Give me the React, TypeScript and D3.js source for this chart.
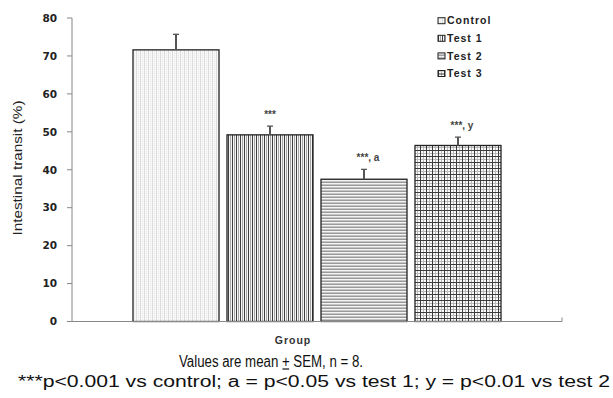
import React, { useEffect, useRef, useState } from "react";
import * as d3 from "d3";

const groups = ["Control", "Test 1", "Test 2", "Test 3"];
const means = [71.6, 49.2, 37.5, 46.4];
const sems = [4.1, 2.3, 2.6, 2.2];
const sigLabels = ["", "***", "***, a", "***, y"];
const yTicks = [0, 10, 20, 30, 40, 50, 60, 70, 80];
const patternIds = ["pCtrl", "pT1", "pT2", "pT3"];
const caption1 = "Values are mean + SEM, n = 8.";
const caption2 = "***p<0.001 vs control; a = p<0.05 vs test 1; y = p<0.01 vs test 2";

const W = 613;
const H = 398;
const left = 72;
const right = 562;
const top = 18;
const bottom = 321.5;

export default function App() {
  const x = d3
    .scaleBand<string>()
    .domain(groups)
    .range([left, right])
    .paddingInner(0.085)
    .paddingOuter(0.649);
  const y = d3.scaleLinear().domain([0, 80]).range([bottom, top]);
  const font = "Liberation Sans, Arial, sans-serif";
  const capRef = useRef<SVGTextElement>(null);
  const [ul, setUl] = useState<{ x1: number; x2: number } | null>(null);

  useEffect(() => {
    const el = capRef.current;
    if (!el) return;
    try {
      const idx = caption1.indexOf("+");
      const r = el.getExtentOfChar(idx);
      setUl({ x1: r.x + 0.5, x2: r.x + r.width - 0.5 });
    } catch (e) {
      setUl(null);
    }
  }, []);

  return (
    <svg
      width={W}
      height={H}
      style={{ position: "absolute", left: 0, top: 0, background: "#fff" }}
      fontFamily={font}
    >
      <defs>
        <pattern id="pCtrl" width="4" height="4" patternUnits="userSpaceOnUse">
          <rect width="4" height="4" fill="#f8f8f8" />
          <rect x="0" width="1" height="4" fill="#dcdcdc" />
          <rect x="2" y="1" width="1" height="1" fill="#e2e2e2" />
          <rect x="2" y="3" width="1" height="1" fill="#e8e8e8" />
        </pattern>
        <pattern id="pT1" width="4" height="4" patternUnits="userSpaceOnUse">
          <rect width="4" height="4" fill="#f4f4f4" />
          <rect x="0" width="1" height="4" fill="#404040" />
          <rect x="2" width="1" height="4" fill="#a8a8a8" />
        </pattern>
        <pattern id="pT2" width="4" height="3" patternUnits="userSpaceOnUse">
          <rect width="4" height="3" fill="#c4c4c4" />
          <rect y="0" width="4" height="1" fill="#f4f4f4" />
          <rect y="2" width="4" height="1" fill="#9a9a9a" />
        </pattern>
        <pattern id="pT3" width="6" height="6" patternUnits="userSpaceOnUse">
          <rect width="6" height="6" fill="#fafafa" />
          <rect x="3" width="1" height="6" fill="#b8b8b8" />
          <rect y="3" width="6" height="1" fill="#b8b8b8" />
          <rect x="0" width="1" height="6" fill="#3c3c3c" />
          <rect y="0" width="6" height="1" fill="#3c3c3c" />
        </pattern>
      </defs>

      {/* y axis */}
      <line x1={left} x2={left} y1={y(80)} y2={y(0)} stroke="#888" strokeWidth={1} />
      {yTicks.map((t) => (
        <g key={t}>
          <line x1={left - 5} x2={left} y1={y(t)} y2={y(t)} stroke="#888" />
          <text
            x={57}
            y={y(t)}
            dy="0.36em"
            textAnchor="end"
            fontSize={10.5}
            fontWeight="bold"
            fill="#222"
            fontFamily="DejaVu Sans, sans-serif"
          >
            {t}
          </text>
        </g>
      ))}
      <text
        transform={`translate(22,${168}) rotate(-90)`}
        textAnchor="middle"
        fontSize={12}
        fill="#222"
        textLength={135}
        lengthAdjust="spacingAndGlyphs"
      >
        Intestinal transit (%)
      </text>

      {/* bars */}
      {groups.map((g, i) => {
        const bx = x(g)!;
        const bw = x.bandwidth();
        const cx = bx + bw / 2;
        return (
          <g key={g}>
            <rect
              x={bx}
              y={y(means[i])}
              width={bw}
              height={y(0) - y(means[i])}
              fill={`url(#${patternIds[i]})`}
              stroke="#222"
              strokeWidth={1.3}
            />
            <line
              x1={cx}
              x2={cx}
              y1={y(means[i])}
              y2={y(means[i] + sems[i])}
              stroke="#555"
              strokeWidth={2}
            />
            <line
              x1={cx - 3}
              x2={cx + 3}
              y1={y(means[i] + sems[i])}
              y2={y(means[i] + sems[i])}
              stroke="#555"
              strokeWidth={1.3}
            />
            {sigLabels[i] && (
              <text
                x={cx + (i === 1 ? 0 : 4)}
                y={y(means[i] + sems[i]) - 8}
                textAnchor="middle"
                fontSize={10}
                fontWeight="bold"
                fill="#444"
              >
                {sigLabels[i]}
              </text>
            )}
          </g>
        );
      })}

      {/* x axis */}
      <line x1={left} x2={right} y1={y(0)} y2={y(0)} stroke="#888" strokeWidth={1} />
      <line x1={right} x2={right} y1={y(0) - 4} y2={y(0)} stroke="#888" strokeWidth={1} />
      <text
        x={293}
        y={344}
        textAnchor="middle"
        fontSize={10.5}
        fontWeight="bold"
        fill="#333"
        letterSpacing={1}
      >
        Group
      </text>

      {/* legend */}
      {groups.map((g, i) => (
        <g key={g} transform={`translate(438,${20.7 + i * 17.6})`}>
          <rect
            x={0}
            y={-3}
            width={7}
            height={6}
            fill={`url(#${patternIds[i]})`}
            stroke="#222"
            strokeWidth={1}
          />
          <text
            x={9}
            y={0}
            dy="0.36em"
            fontSize={10.5}
            fontWeight="bold"
            fill="#222"
            letterSpacing={1}
          >
            {g}
          </text>
        </g>
      ))}

      {/* caption */}
      <text
        ref={capRef}
        x={271}
        y={367}
        textAnchor="middle"
        fontSize={16}
        fill="#111"
        textLength={184}
        lengthAdjust="spacingAndGlyphs"
      >
        {caption1}
      </text>
      {ul && (
        <line x1={ul.x1} x2={ul.x2} y1={369} y2={369} stroke="#111" strokeWidth={1.2} />
      )}
      <text
        x={314}
        y={387}
        textAnchor="middle"
        fontSize={16}
        fill="#111"
        textLength={592}
        lengthAdjust="spacingAndGlyphs"
      >
        {caption2}
      </text>
    </svg>
  );
}
